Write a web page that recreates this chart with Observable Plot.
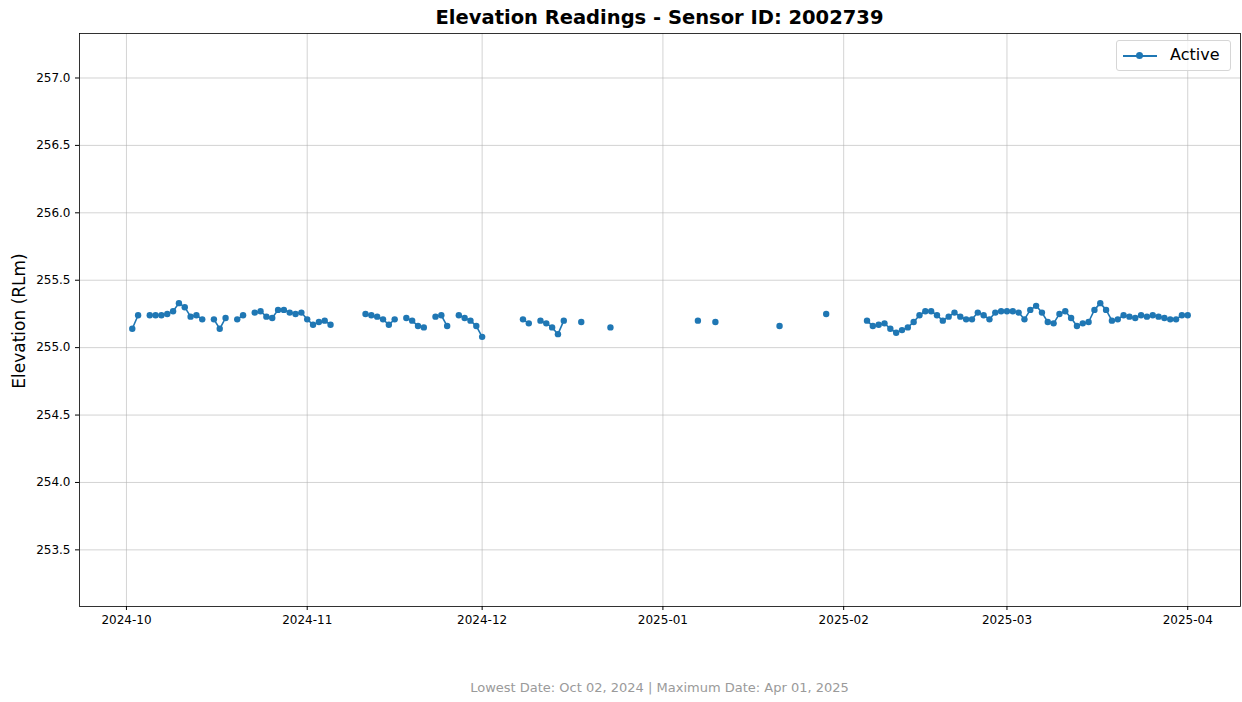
<!DOCTYPE html>
<html>
<head>
<meta charset="utf-8">
<script src="https://cdn.jsdelivr.net/npm/d3@7"></script>
<script src="https://cdn.jsdelivr.net/npm/@observablehq/plot@0.6"></script>
<style>
  html, body { margin: 0; padding: 0; background: #fff; }
  #wrap { position: relative; width: 1242px; height: 702px; font-family: "DejaVu Sans", sans-serif; }
  #title { height: 32px; line-height: 36px; text-align: center; font-weight: bold; font-size: 19.5px; color: #000; padding-left: 77px; box-sizing: border-box; }
  #caption { height: 30px; line-height: 32px; text-align: center; font-size: 13px; color: #9a9a9a; padding-left: 77px; box-sizing: border-box; }
  #ylabel { position: absolute; left: 19px; top: 321px; transform: translate(-50%, -50%) rotate(-90deg); font-size: 17px; white-space: nowrap; color: #000; }
  #legend { position: absolute; left: 1116px; top: 40px; width: 115px; height: 31px; box-sizing: border-box; border: 1px solid #d6d6d6; border-radius: 3px; background: rgba(255,255,255,0.8); }
  #legend .ln { position: absolute; left: 6px; top: 14px; width: 34px; height: 2px; background: #1f77b4; }
  #legend .mk { position: absolute; left: 19px; top: 11px; width: 7px; height: 7px; border-radius: 50%; background: #1f77b4; }
  #legend .tx { position: absolute; left: 53px; top: 4px; font-size: 16px; color: #000; }
  svg { display: block; }
</style>
</head>
<body>
<div id="wrap">
  <div id="title">Elevation Readings - Sensor ID: 2002739</div>
  <div id="chart"></div>
  <div id="caption">Lowest Date: Oct 02, 2024 | Maximum Date: Apr 01, 2025</div>
  <div id="ylabel">Elevation (RLm)</div>
  <div id="legend"><div class="ln"></div><div class="mk"></div><div class="tx">Active</div></div>
</div>
<script>
const dates = [
  "2024-10-02","2024-10-03",
  "2024-10-05","2024-10-06","2024-10-07","2024-10-08","2024-10-09","2024-10-10","2024-10-11","2024-10-12","2024-10-13","2024-10-14",
  "2024-10-16","2024-10-17","2024-10-18",
  "2024-10-20","2024-10-21",
  "2024-10-23","2024-10-24","2024-10-25","2024-10-26","2024-10-27","2024-10-28","2024-10-29","2024-10-30","2024-10-31",
  "2024-11-01","2024-11-02","2024-11-03","2024-11-04","2024-11-05",
  "2024-11-11","2024-11-12","2024-11-13","2024-11-14","2024-11-15","2024-11-16",
  "2024-11-18","2024-11-19","2024-11-20","2024-11-21",
  "2024-11-23","2024-11-24","2024-11-25",
  "2024-11-27","2024-11-28","2024-11-29","2024-11-30","2024-12-01",
  "2024-12-08","2024-12-09",
  "2024-12-11","2024-12-12","2024-12-13","2024-12-14","2024-12-15",
  "2024-12-18","2024-12-23",
  "2025-01-07","2025-01-10","2025-01-21","2025-01-29",
  "2025-02-05","2025-02-06","2025-02-07","2025-02-08","2025-02-09","2025-02-10","2025-02-11","2025-02-12","2025-02-13","2025-02-14",
  "2025-02-15","2025-02-16","2025-02-17","2025-02-18","2025-02-19","2025-02-20","2025-02-21","2025-02-22","2025-02-23","2025-02-24",
  "2025-02-25","2025-02-26","2025-02-27","2025-02-28",
  "2025-03-01","2025-03-02","2025-03-03","2025-03-04","2025-03-05","2025-03-06","2025-03-07","2025-03-08","2025-03-09","2025-03-10",
  "2025-03-11","2025-03-12","2025-03-13","2025-03-14","2025-03-15","2025-03-16","2025-03-17","2025-03-18","2025-03-19","2025-03-20",
  "2025-03-21","2025-03-22","2025-03-23","2025-03-24","2025-03-25","2025-03-26","2025-03-27","2025-03-28","2025-03-29","2025-03-30",
  "2025-03-31","2025-04-01"
];
const elevations = [
  255.14,255.24,
  255.24,255.24,255.24,255.25,255.27,255.33,255.30,255.23,255.24,255.21,
  255.21,255.14,255.22,
  255.21,255.24,
  255.26,255.27,255.23,255.22,255.28,255.28,255.26,255.25,255.26,
  255.21,255.17,255.19,255.20,255.17,
  255.25,255.24,255.23,255.21,255.17,255.21,
  255.22,255.20,255.16,255.15,
  255.23,255.24,255.16,
  255.24,255.22,255.20,255.16,255.08,
  255.21,255.18,
  255.20,255.18,255.15,255.10,255.20,
  255.19,255.15,
  255.20,255.19,255.16,255.25,
  255.20,255.16,255.17,255.18,255.14,255.11,255.13,255.15,255.19,255.24,
  255.27,255.27,255.24,255.20,255.23,255.26,255.23,255.21,255.21,255.26,
  255.24,255.21,255.26,255.27,
  255.27,255.27,255.26,255.21,255.28,255.31,255.26,255.19,255.18,255.25,
  255.27,255.22,255.16,255.18,255.19,255.28,255.33,255.28,255.20,255.21,
  255.24,255.23,255.22,255.24,255.23,255.24,255.23,255.22,255.21,255.21,
  255.24,255.24
];
const monthTicks = ["2024-10-01","2024-11-01","2024-12-01","2025-01-01","2025-02-01","2025-03-01","2025-04-01"];
const yTicks = [253.5, 254.0, 254.5, 255.0, 255.5, 256.0, 256.5, 257.0];

const DAY = 86400000;
const data = dates.map((d, i) => ({ date: new Date(d + "T00:00:00Z"), value: elevations[i] }));
let seg = 0;
data.forEach((d, i) => { if (i > 0 && d.date - data[i - 1].date > 1.5 * DAY) seg++; d.seg = seg; });

const x0 = data[0].date.getTime(), x1 = data[data.length - 1].date.getTime();
const pad = (x1 - x0) * 0.05;
const yMin = d3.min(elevations), yMax = d3.max(elevations);
const xt = monthTicks.map(s => new Date(s + "T00:00:00Z"));

const chart = Plot.plot({
  width: 1242,
  height: 640,
  marginLeft: 79,
  marginRight: 2,
  marginTop: 1,
  marginBottom: 66,
  style: { fontFamily: "DejaVu Sans, sans-serif", fontSize: "12px", color: "#000", background: "#fff" },
  x: { type: "utc", domain: [new Date(x0 - pad), new Date(x1 + pad)] },
  y: { domain: [yMin - 2, yMax + 2] },
  marks: [
    Plot.gridX(xt, { stroke: "#b0b0b0", strokeOpacity: 0.7, strokeWidth: 0.8 }),
    Plot.gridY(yTicks, { stroke: "#b0b0b0", strokeOpacity: 0.7, strokeWidth: 0.8 }),
    Plot.line(data, { x: "date", y: "value", z: "seg", stroke: "#1f77b4", strokeWidth: 1.6 }),
    Plot.dot(data, { x: "date", y: "value", r: 3.2, fill: "#1f77b4", stroke: "none" }),
    Plot.frame({ stroke: "#000", strokeWidth: 0.8 }),
    Plot.axisX(xt, { tickFormat: d3.utcFormat("%Y-%m"), tickSize: 4, tickPadding: 5, label: null, fontSize: 12 }),
    Plot.axisY(yTicks, { tickFormat: d3.format(".1f"), tickSize: 4, tickPadding: 5, label: null, fontSize: 12 })
  ]
});
document.getElementById("chart").appendChild(chart);
</script>
</body>
</html>
